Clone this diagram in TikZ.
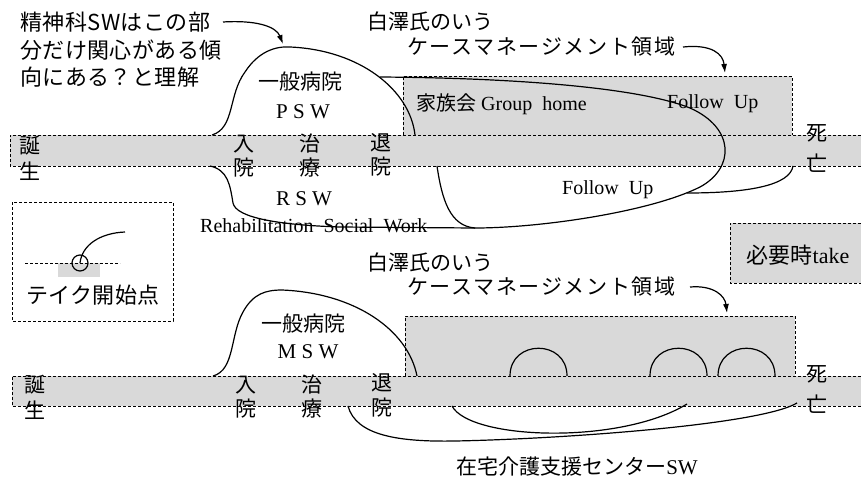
\documentclass[tikz,border=0pt]{standalone}
\usepackage{fontspec}
\setmainfont{Liberation Serif}
\newfontfamily\jpf{Noto Sans CJK JP}
\newfontfamily\jpw[LetterSpace=8]{Noto Sans CJK JP}
\newfontfamily\jpa[LetterSpace=2]{Noto Sans CJK JP}
\usetikzlibrary{arrows.meta}
\tikzset{
  bandfill/.style={fill=black!15},
  dsh/.style={draw, dash pattern=on 3pt off 2pt, line width=0.8pt},
  crv/.style={line width=1.2pt},
  arr/.style={crv, -{Latex[length=9pt,width=6pt]}},
  jp/.style={inner sep=0, font=\fontsize{21}{25}\selectfont\jpf},
  jpann/.style={inner sep=0, font=\fontsize{22}{26}\selectfont\jpa},
  jpwide/.style={inner sep=0, font=\fontsize{21}{25}\selectfont\jpw},
  en/.style={inner sep=0, font=\fontsize{20}{24}\selectfont},
  abbr/.style={inner sep=0, font=\fontsize{21}{25}\selectfont},
}
\begin{document}
\begin{tikzpicture}[x=1pt,y=-1pt]
\useasboundingbox (0,0) rectangle (861,479);

% ---------- gray fills ----------
\fill[bandfill] (10,135) rectangle (861,166);
\fill[bandfill] (403,76) rectangle (792,135);
\fill[bandfill] (58,263) rectangle (100,277);
\fill[bandfill] (730,223) rectangle (861,283);
\fill[bandfill] (12,376) rectangle (861,406);
\fill[bandfill] (405,316) rectangle (795,376);

% ---------- dashed outlines ----------
\draw[dsh] (861,135) -- (10,135) -- (10,166) -- (861,166);
\draw[dsh] (403,135) -- (403,76) -- (792,76) -- (792,135);
\draw[dsh] (12,202) rectangle (173,321);
\draw[dsh] (25,263) -- (120,263);
\draw[dsh] (861,223) -- (730,223) -- (730,283) -- (861,283);
\draw[dsh] (861,376) -- (12,376) -- (12,406) -- (861,406);
\draw[dsh] (405,376) -- (405,316) -- (795,316) -- (795,376);

% ---------- top diagram texts ----------
\node[jpann, anchor=west] (n1) at (20,22) {精神科SWはこの部};
\node[jpann, anchor=west] (n2) at (20,50) {分だけ関心がある傾};
\node[jpann, anchor=west] (n3) at (20,77) {向にある？と理解};
\node[jp, anchor=west] (sw1) at (367,22) {白澤氏のいう};
\node[jpwide, anchor=west] (cm1) at (407,47) {ケースマネージメント領域};

\node[jp] (tb1) at (30,146) {誕};
\node[jp] (tb2) at (30,171) {生};
\node[jp] (ti1) at (244,144) {入};
\node[jp] (ti2) at (244,168) {院};
\node[jp] (tt1) at (310,144) {治};
\node[jp] (tt2) at (310,168) {療};
\node[jp] (to1) at (381,143) {退};
\node[jp] (to2) at (381,167) {院};
\node[jp] (td1) at (817,133) {死};
\node[jp] (td2) at (817,163) {亡};

\node[jp] (gh1) at (300,82) {一般病院};
\node[abbr] (psw) at (303,112) {P\ S\ W};
\node[abbr] (rsw) at (304,199) {R\ S\ W};
\node[en, anchor=west] (rsww) at (200,226) {Rehabilitation\ \ Social\ \ Work};
\node[en, anchor=west] (fam) at (416,104) {{\jpf 家族会} Group\ \ home};
\node[en, anchor=west] (fu1) at (667,104) {Follow\ \ Up};
\node[en, anchor=west] (fu2) at (562,190) {Follow\ \ Up};

% ---------- legend ----------
\node[circle, draw, line width=1.2pt, minimum size=16pt, inner sep=0] (tk) at (80,263) {};
\coordinate (tkend) at (125,232);
\draw[crv] (tk.center) .. controls (82,245) and (100,233) .. (tkend);
\node[jpann] (tklab) at (93,295) {テイク開始点};

\node[abbr] (take) at (798,255) {\fontsize{22}{26}\selectfont{\jpf 必要時}take};

% ---------- top diagram curves ----------
\coordinate (a1s) at (223,22);
\coordinate (a1e) at (283,44);
\draw[arr] (a1s) .. controls (255,20) and (276,26) .. (a1e);
\coordinate (a2s) at (683,47);
\coordinate (a2e) at (725,73);
\draw[arr] (a2s) .. controls (712,44) and (723,54) .. (a2e);

\coordinate (pL) at (212,135);
\coordinate (pR) at (415,135);
\draw[crv] (pL) .. controls (235,128) and (228,95) .. (245,72)
  .. controls (258,52) and (275,46) .. (290,47)
  .. controls (360,50) and (410,90) .. (pR);

\coordinate (loopS) at (380,77);
\coordinate (loopE) at (475,228);
\draw[crv] (loopS) .. controls (520,78) and (640,88) .. (690,108)
  .. controls (735,128) and (735,168) .. (700,187)
  .. controls (650,212) and (540,228) .. (loopE);

\coordinate (fuS) at (437,166);
\draw[crv] (fuS) .. controls (442,200) and (450,226) .. (loopE);

\coordinate (rS) at (210,166);
\draw[crv] (rS) .. controls (228,170) and (230,185) .. (233,203)
  .. controls (236,218) and (280,225) .. (340,227) -- (loopE);

\coordinate (dS) at (687,193);
\coordinate (dE) at (793,166);
\draw[crv] (dS) .. controls (750,193) and (790,185) .. (dE);

% ---------- bottom diagram texts ----------
\node[jp, anchor=west] (sw2) at (367,263) {白澤氏のいう};
\node[jpwide, anchor=west] (cm2) at (407,287) {ケースマネージメント領域};
\node[jp] (bb1) at (35,385) {誕};
\node[jp] (bb2) at (35,410) {生};
\node[jp] (bi1) at (246,385) {入};
\node[jp] (bi2) at (246,409) {院};
\node[jp] (bt1) at (312,385) {治};
\node[jp] (bt2) at (312,409) {療};
\node[jp] (bo1) at (382,383) {退};
\node[jp] (bo2) at (382,408) {院};
\node[jp] (bd1) at (817,374) {死};
\node[jp] (bd2) at (817,404) {亡};
\node[jp] (gh2) at (303,324) {一般病院};
\node[abbr] (msw) at (308,352) {M\ S\ W};
\node[abbr] (zaitaku) at (577,467) {{\jpf 在宅介護支援センター}SW};

% ---------- bottom diagram curves ----------
\coordinate (a3s) at (690,287);
\coordinate (a3e) at (727,313);
\draw[arr] (a3s) .. controls (714,285) and (725,296) .. (a3e);

\coordinate (mL) at (213,376);
\coordinate (mR) at (417,376);
\draw[crv] (mL) .. controls (235,370) and (230,335) .. (243,312)
  .. controls (253,294) and (265,290) .. (282,290)
  .. controls (355,293) and (408,330) .. (mR);

\coordinate (h1a) at (510,376);
\coordinate (h1b) at (567,376);
\draw[crv] (h1a) .. controls (510,339) and (567,339) .. (h1b);
\coordinate (h2a) at (650,376);
\coordinate (h2b) at (707,376);
\draw[crv] (h2a) .. controls (650,339) and (707,339) .. (h2b);
\coordinate (h3a) at (718,376);
\coordinate (h3b) at (775,376);
\draw[crv] (h3a) .. controls (718,339) and (775,339) .. (h3b);

\coordinate (cAs) at (348,406);
\coordinate (cAe) at (797,403);
\draw[crv] (cAs) .. controls (356,436) and (400,442) .. (455,441)
  .. controls (560,439) and (760,425) .. (cAe);
\coordinate (cBs) at (452,406);
\coordinate (cBe) at (687,404);
\draw[crv] (cBs) .. controls (470,440) and (620,445) .. (cBe);
\end{tikzpicture}
\end{document}
